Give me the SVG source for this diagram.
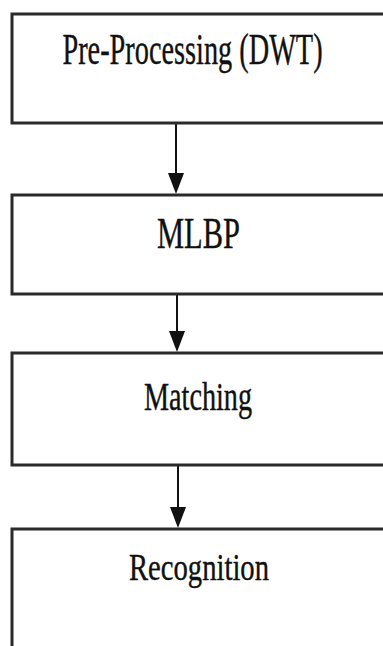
<svg xmlns="http://www.w3.org/2000/svg" width="383" height="646" viewBox="0 0 383 646">
<style>
.box{fill:#fff;stroke:#2a2a2a;stroke-width:3}
.edge{stroke:#111;stroke-width:2;fill:none}
.head{fill:#111}
</style>
<rect width="383" height="646" fill="#fff"/>
<g id="connectors">
<line class="edge" x1="176" y1="123" x2="176" y2="180"/>
<path class="head" d="M168,173 L184,173 L176,194 Z"/>
<line class="edge" x1="177" y1="294" x2="177" y2="340"/>
<path class="head" d="M169,331 L185,331 L177,352 Z"/>
<line class="edge" x1="178" y1="465" x2="178" y2="515"/>
<path class="head" d="M170,507 L186,507 L178,528 Z"/>
</g>
<g id="node-preprocessing">
<rect class="box" x="12" y="14" width="380" height="109"/>
<text font-family="Liberation Serif, serif" text-anchor="middle" fill="#111" stroke="#111" stroke-width="0.4" font-size="43.9" transform="translate(192.5,64) scale(0.645,1)">Pre-Processing (DWT)</text>
</g>
<g id="node-mlbp">
<rect class="box" x="12" y="195" width="380" height="99"/>
<text font-family="Liberation Serif, serif" text-anchor="middle" fill="#111" stroke="#111" stroke-width="0.4" font-size="45.1" transform="translate(198.5,248) scale(0.676,1)">MLBP</text>
</g>
<g id="node-matching">
<rect class="box" x="12" y="353" width="380" height="112"/>
<text font-family="Liberation Serif, serif" text-anchor="middle" fill="#111" stroke="#111" stroke-width="0.4" font-size="40.9" transform="translate(198,410) scale(0.69,1)">Matching</text>
</g>
<g id="node-recognition">
<rect class="box" x="12" y="529" width="380" height="130"/>
<text font-family="Liberation Serif, serif" text-anchor="middle" fill="#111" stroke="#111" stroke-width="0.4" font-size="37.2" transform="translate(199,580) scale(0.77,1)">Recognition</text>
</g>
</svg>
